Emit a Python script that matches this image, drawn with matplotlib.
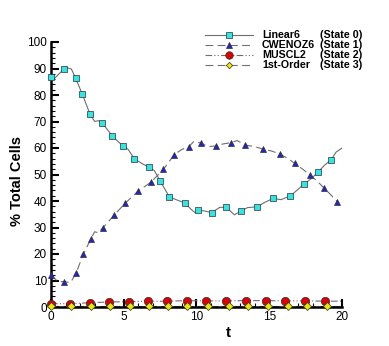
import matplotlib
matplotlib.use("Agg")
import matplotlib.pyplot as plt
from matplotlib.lines import Line2D
from matplotlib.ticker import MultipleLocator

plt.rcParams['font.family'] = ['Liberation Sans', 'DejaVu Sans']

# ---- data ----
lin_line_t = [0, 0.15, 0.87, 1.15, 1.4, 1.70, 2.15, 2.68, 3.0, 3.25, 3.51, 4.21, 4.6, 4.98, 5.3, 5.73,
              6.3, 6.71, 7.1, 7.51, 8.13, 8.6, 9.23, 9.6, 9.9, 10.08, 10.5, 11.04, 11.6, 12.05, 12.6,
              13.04, 13.5, 14.14, 14.7, 15.28, 15.8, 16.45, 17.0, 17.39, 17.9, 18.33, 18.8, 19.26,
              19.6, 19.98]
lin_line_v = [86.8, 85.8, 89.7, 90.2, 89.8, 86.3, 80.3, 72.8, 70.0, 70.3, 69.5, 64.6, 62.5, 60.6, 59.5,
              55.9, 54.0, 52.8, 51.5, 47.5, 41.6, 40.5, 39.2, 37.0, 35.6, 36.5, 36.3, 35.6, 37.6, 37.6,
              34.8, 36.1, 37.5, 37.8, 39.5, 41.0, 40.5, 41.9, 44.5, 46.4, 48.5, 50.8, 53.5, 55.6,
              58.5, 59.9]
lin_mark_t = [0, 0.87, 1.70, 2.15, 2.68, 3.51, 4.21, 4.98, 5.73, 6.71, 7.51, 8.13, 9.23, 10.08,
              11.04, 12.05, 13.04, 14.14, 15.28, 16.45, 17.39, 18.33, 19.26]
lin_mark_v = [86.8, 89.7, 86.3, 80.3, 72.8, 69.5, 64.6, 60.6, 55.9, 52.8, 47.5, 41.6, 39.2, 36.5,
              35.6, 37.6, 36.1, 37.8, 41.0, 41.9, 46.4, 50.8, 55.6]

cw_line_t = [0, 0.43, 0.87, 1.35, 1.72, 2.22, 2.75, 3.0, 3.25, 3.57, 4.33, 5.09, 5.98, 6.87, 7.72,
             8.47, 9.0, 9.48, 9.8, 10.29, 10.8, 11.36, 11.8, 12.35, 12.8, 13.35, 14.0, 14.57, 15.2,
             15.72, 16.3, 16.75, 17.3, 17.80, 18.3, 18.76, 19.2, 19.68]
cw_line_v = [12.1, 9.8, 9.5, 9.3, 12.7, 19.9, 25.8, 28.4, 28.0, 29.9, 34.6, 39.1, 43.7, 47.1, 51.9,
             57.5, 59.5, 60.5, 62.4, 61.9, 60.5, 60.8, 61.5, 62.0, 62.8, 61.1, 60.5, 59.6, 58.8,
             57.7, 56.0, 54.2, 52.0, 49.8, 47.5, 44.9, 42.5, 39.7]
cw_mark_t = [0, 0.87, 1.72, 2.22, 2.75, 3.57, 4.33, 5.09, 5.98, 6.87, 7.72, 8.47, 9.48, 10.29,
             11.36, 12.35, 13.35, 14.57, 15.72, 16.75, 17.80, 18.76, 19.68]
cw_mark_v = [12.1, 9.5, 12.7, 19.9, 25.8, 29.9, 34.6, 39.1, 43.7, 47.1, 51.9, 57.5, 60.5, 61.9,
             60.8, 62.0, 61.1, 59.6, 57.7, 54.2, 49.8, 44.9, 39.7]

mu_t = [0, 1.32, 2.65, 4.0, 5.33, 6.67, 8.0, 9.35, 10.67, 12.05, 13.4, 14.75, 16.1, 17.47, 18.8, 20.0]
mu_v = [1.25, 1.25, 1.6, 1.9, 2.0, 2.15, 2.2, 2.4, 2.3, 2.3, 2.4, 2.4, 2.3, 2.3, 2.2, 2.2]

fo_t = [0, 1.37, 2.72, 4.05, 5.4, 6.75, 8.05, 9.35, 10.8, 12.2, 13.55, 14.9, 16.3, 17.6, 19.0, 20.0]
fo_v = [0.2] * 16

labels = ['Linear6', 'CWENOZ6', 'MUSCL2', '1st-Order']
states = ['(State 0)', '(State 1)', '(State 2)', '(State 3)']

# ---- styles ----
LC = '#6e6e6e'
styles = [
    dict(ls='-', marker='s', mfc='#2ee6e6', ms=4.2),
    dict(ls=(0, (7, 4)), marker='^', mfc='#2424c8', ms=5.0),
    dict(ls=(0, (6, 2, 1, 2, 1, 2)), marker='o', mfc='#dd0000', ms=6.0),
    dict(ls=(0, (7, 4)), marker='D', mfc='#e8e800', ms=3.6),
]

W, H = 389, 346
fig = plt.figure(figsize=(W / 100, H / 100), dpi=100)
L, R, T, B = 51, 342, 42, 307
ax = fig.add_axes([L / W, 1 - B / H, (R - L) / W, (B - T) / H])

series = [(lin_line_t, lin_line_v, lin_mark_t, lin_mark_v),
          (cw_line_t, cw_line_v, cw_mark_t, cw_mark_v),
          (mu_t, mu_v, mu_t[:-1], mu_v[:-1]),
          (fo_t, fo_v, fo_t[:-1], fo_v[:-1])]

for (lt, lv, mt, mv), st in zip(series, styles):
    ax.plot(lt, lv, color=LC, lw=0.8, ls=st['ls'], zorder=2)
    ax.plot(mt, mv, ls='none', marker=st['marker'], mfc=st['mfc'], mec='#303030',
            mew=0.5, ms=st['ms'], zorder=3, clip_on=False)

ax.set_xlim(0, 20)
ax.set_ylim(0, 100)
for s in ['top', 'right']:
    ax.spines[s].set_visible(False)
for s in ['left', 'bottom']:
    ax.spines[s].set_linewidth(1.8)
ax.xaxis.set_major_locator(MultipleLocator(5))
ax.xaxis.set_minor_locator(MultipleLocator(1))
ax.yaxis.set_major_locator(MultipleLocator(10))
ax.yaxis.set_minor_locator(MultipleLocator(2))
ax.tick_params(which='major', direction='in', length=6, width=1.5, labelsize=8.5, pad=3)
ax.tick_params(which='minor', direction='in', length=3, width=0.8)

fig.text(17 / W, 1 - 181 / H, '% Total Cells', rotation=90, ha='center', va='center',
         fontsize=10.5, fontweight='bold')
fig.text(228 / W, 1 - 333 / H, 't', ha='center', va='center', fontsize=11, fontweight='bold')

# legend (manual)
for i, st in enumerate(styles):
    y = 1 - (35 + 10 * i) / H
    fig.add_artist(Line2D([205 / W, 253 / W], [y, y], color=LC, lw=0.8, ls=st['ls']))
    fig.add_artist(Line2D([229 / W], [y], ls='none', marker=st['marker'], mfc=st['mfc'],
                          mec='#303030', mew=0.5, ms=st['ms'] * 0.9))
    fig.text(262 / W, y, labels[i], ha='left', va='center', fontsize=7.7, fontweight='bold')
    fig.text(320 / W, y, states[i], ha='left', va='center', fontsize=7.7, fontweight='bold')

fig.savefig('out.png', dpi=100)
